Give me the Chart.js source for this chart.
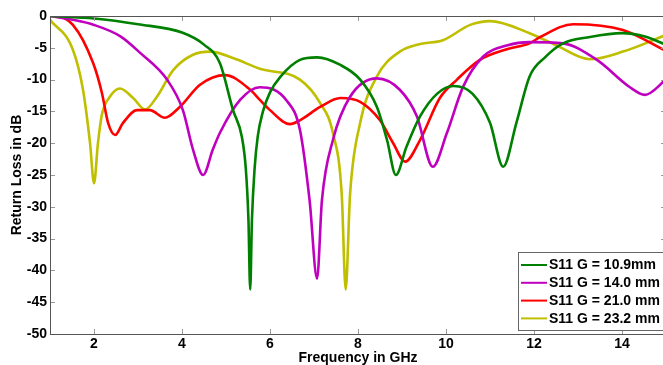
<!DOCTYPE html>
<html>
<head>
<meta charset="utf-8">
<script src="https://cdn.jsdelivr.net/npm/chart.js@4/dist/chart.umd.min.js"></script>
<style>
  html, body { margin: 0; padding: 0; background: #fff; overflow: hidden; width: 663px; height: 365px; }
  #wrap { width: 666px; height: 365px; }
</style>
</head>
<body>
<div id="wrap"><canvas id="rl" width="666" height="365"></canvas></div>
<script>
// values (GHz / dB)
const freq109 = [1.0, 2.0, 3.0, 4.0, 4.5, 4.86, 5.16, 5.36, 5.45, 5.51, 5.55, 5.59, 5.65, 5.72, 5.84, 6.0, 6.23, 6.68, 7.07, 7.6, 8.05, 8.43, 8.66, 8.86, 9.1, 9.41, 9.8, 10.17, 10.6, 11.0, 11.3, 11.6, 11.9, 12.25, 12.66, 13.27, 14.0, 14.5, 15.0];
const loss109 = [0, -0.4, -1.3, -2.6, -4.5, -7.4, -14.8, -19, -24, -32, -43, -32, -24, -19, -15, -12, -9.6, -6.9, -6.5, -7.7, -10, -14.3, -19.5, -25, -20.6, -15.8, -12.2, -11, -12.2, -16.8, -23.7, -16.8, -9.5, -6.5, -4.3, -3.3, -2.7, -3.2, -4.5];

const freq140 = [1.0, 1.52, 2.0, 2.6, 3.05, 3.66, 4.02, 4.25, 4.48, 4.7, 4.86, 5.32, 5.77, 6.39, 6.68, 6.9, 7.07, 7.18, 7.43, 7.82, 8.43, 8.95, 9.34, 9.7, 10.02, 10.39, 10.84, 11.4, 11.9, 12.66, 13.43, 14.18, 14.52, 15.0];
const loss140 = [0, -0.6, -1.4, -3.2, -5.8, -10, -14.8, -21, -25, -21, -18.4, -13.2, -11.2, -13.4, -17.9, -29, -41.3, -29, -19.5, -12.7, -9.8, -11.6, -15.8, -23.7, -18.4, -11.1, -6.4, -4.6, -4.1, -4.3, -6.9, -11.2, -12.4, -10];

const freq210 = [1.0, 1.07, 1.52, 1.98, 2.18, 2.32, 2.48, 2.66, 2.98, 3.27, 3.61, 3.95, 4.41, 4.98, 5.55, 5.77, 6.0, 6.45, 6.68, 7.14, 7.6, 8.05, 8.5, 8.8, 9.07, 9.41, 9.86, 10.25, 10.77, 11.4, 11.9, 12.14, 12.89, 14.02, 15.0];
const loss210 = [0, 0, -1.4, -7.4, -12.1, -16.8, -18.7, -16.8, -14.8, -14.8, -16, -14.3, -10.8, -9.3, -11.6, -13.2, -14.8, -17, -16.4, -14.3, -12.9, -13.5, -16.4, -20, -22.9, -19.5, -12.9, -10, -6.9, -5.2, -4.3, -3.3, -1.3, -2.2, -5.5];

const freq232 = [1.0, 1.52, 1.75, 1.91, 2.0, 2.09, 2.18, 2.36, 2.59, 2.89, 3.16, 3.43, 3.8, 4.25, 4.64, 5.16, 5.77, 6.68, 7.14, 7.43, 7.63, 7.72, 7.82, 8.05, 8.43, 8.95, 9.41, 9.93, 10.55, 11.0, 11.9, 12.5, 13.27, 14.02, 15.0];
const loss232 = [-0.6, -5.3, -11.6, -20, -26.3, -20, -15.5, -12.7, -11.4, -12.9, -14.7, -12.7, -8.5, -6.1, -5.6, -6.6, -8.3, -10, -13.7, -18.4, -28, -43, -28, -16.8, -9.5, -5.6, -4.4, -3.8, -1.4, -0.8, -2.7, -4.6, -6.8, -5.6, -3];

const seriesLabels = ['S11 G = 10.9mm', 'S11 G = 14.0 mm', 'S11 G = 21.0 mm', 'S11 G = 23.2 mm'];
const seriesColors = ['#008000', '#bf00bf', '#ff0000', '#bfbf00'];
const xTicks = [2, 4, 6, 8, 10, 12, 14];
const yTicks = [0, -5, -10, -15, -20, -25, -30, -35, -40, -45, -50];

const FONT = "'Liberation Sans', Arial, sans-serif";

function pairs(xs, ys) {
    return xs.map((x, i) => ({ x: x, y: ys[i] }));
}

// box round the plot with inward tick marks, like the MATLAB figure
const axesBox = {
    id: 'axesBox',
    afterDatasetsDraw(chart) {
        const { ctx, chartArea: a, scales: { x, y } } = chart;
        ctx.save();
        ctx.lineWidth = 1;
        ctx.strokeStyle = '#999';
        ctx.beginPath();
        xTicks.forEach(v => {
            const px = Math.round(x.getPixelForValue(v)) + 0.5;
            ctx.moveTo(px, a.bottom); ctx.lineTo(px, a.bottom - 5);
            ctx.moveTo(px, a.top); ctx.lineTo(px, a.top + 5);
        });
        yTicks.forEach(v => {
            const py = Math.round(y.getPixelForValue(v)) + 0.5;
            ctx.moveTo(a.left, py); ctx.lineTo(a.left + 5, py);
            ctx.moveTo(a.right, py); ctx.lineTo(a.right - 5, py);
        });
        ctx.stroke();
        ctx.strokeStyle = '#555';
        ctx.strokeRect(Math.round(a.left) + 0.5, Math.round(a.top) + 0.5, Math.round(a.right - a.left), Math.round(a.bottom - a.top));
        ctx.restore();
    }
};

const boxLegend = {
    id: 'boxLegend',
    afterDraw(chart) {
        const ctx = chart.ctx;
        ctx.save();
        ctx.fillStyle = '#fff';
        ctx.fillRect(518, 252, 160, 78);
        ctx.strokeStyle = '#666';
        ctx.lineWidth = 1;
        ctx.strokeRect(518.5, 252.5, 160, 78);
        ctx.font = 'bold 14px ' + FONT;
        ctx.textBaseline = 'middle';
        chart.data.datasets.forEach((ds, i) => {
            const yy = 265 + i * 17.8;
            ctx.strokeStyle = ds.borderColor;
            ctx.lineWidth = 2;
            ctx.beginPath();
            ctx.moveTo(521, yy);
            ctx.lineTo(547, yy);
            ctx.stroke();
            ctx.fillStyle = '#000';
            ctx.fillText(ds.label, 549, yy + 0.5);
        });
        ctx.restore();
    }
};

new Chart(document.getElementById('rl'), {
    type: 'line',
    data: {
        datasets: [
            { label: seriesLabels[0], data: pairs(freq109, loss109), borderColor: seriesColors[0] },
            { label: seriesLabels[1], data: pairs(freq140, loss140), borderColor: seriesColors[1] },
            { label: seriesLabels[2], data: pairs(freq210, loss210), borderColor: seriesColors[2] },
            { label: seriesLabels[3], data: pairs(freq232, loss232), borderColor: seriesColors[3] }
        ].map(ds => Object.assign(ds, {
            borderWidth: 2.6,
            pointRadius: 0,
            fill: false,
            cubicInterpolationMode: 'monotone'
        }))
    },
    options: {
        responsive: false,
        animation: false,
        layout: { padding: { top: 16, right: 0, left: 0, bottom: 0 } },
        plugins: {
            legend: { display: false },
            tooltip: { enabled: false }
        },
        scales: {
            x: {
                type: 'linear',
                min: 1,
                max: 15,
                afterBuildTicks: s => { s.ticks = xTicks.map(v => ({ value: v })); },
                afterFit: s => { s.height = 31; },
                grid: { display: false, drawTicks: false },
                border: { display: false },
                ticks: {
                    padding: 2,
                    color: '#000',
                    font: { family: FONT, size: 14, weight: 'bold' }
                },
                title: {
                    display: true,
                    text: 'Frequency in GHz',
                    color: '#000',
                    padding: { top: 0, bottom: 0 },
                    font: { family: FONT, size: 14, weight: 'bold', lineHeight: 1 }
                }
            },
            y: {
                min: -50,
                max: 0,
                afterBuildTicks: s => { s.ticks = yTicks.map(v => ({ value: v })); },
                afterFit: s => { s.width = 50; },
                grid: { display: false, drawTicks: false },
                border: { display: false },
                ticks: {
                    padding: 3,
                    color: '#000',
                    font: { family: FONT, size: 14, weight: 'bold' }
                },
                title: {
                    display: true,
                    text: 'Return Loss in dB',
                    color: '#000',
                    padding: { top: 10, bottom: 0 },
                    font: { family: FONT, size: 14, weight: 'bold', lineHeight: 1 }
                }
            }
        }
    },
    plugins: [axesBox, boxLegend]
});
</script>
</body>
</html>
